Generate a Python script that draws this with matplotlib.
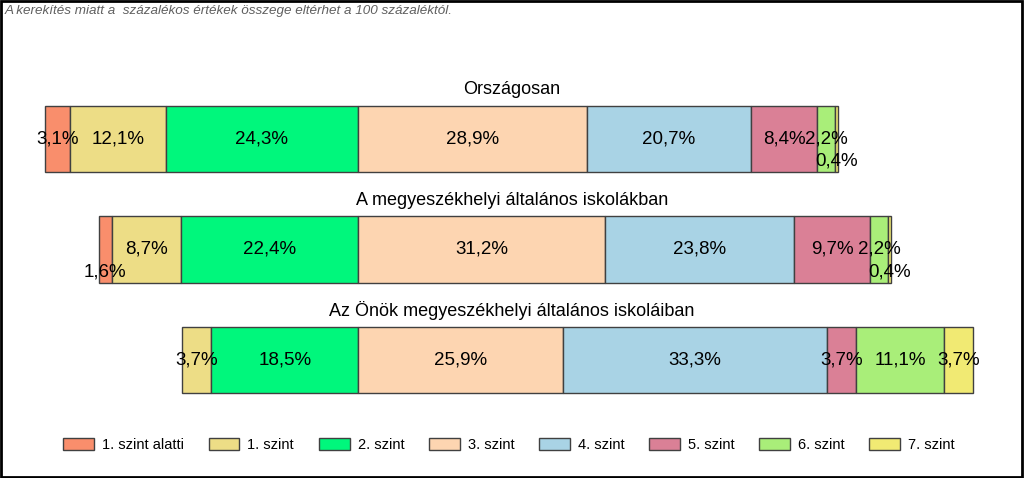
import matplotlib.pyplot as plt
from matplotlib.patches import Rectangle

plt.rcParams['font.family'] = ['Liberation Sans', 'DejaVu Sans']

groups = ['Országosan',
          'A megyeszékhelyi általános iskolákban',
          'Az Önök megyeszékhelyi általános iskoláiban']
levels = ['1. szint alatti', '1. szint', '2. szint', '3. szint',
          '4. szint', '5. szint', '6. szint', '7. szint']
colors = ['#F98E6C', '#EDDD86', '#00F77C', '#FDD5B1',
          '#A9D3E5', '#DA8096', '#A9EE79', '#F1EA73']

orszagos = [3.1, 12.1, 24.3, 28.9, 20.7, 8.4, 2.2, 0.4]
megye = [1.6, 8.7, 22.4, 31.2, 23.8, 9.7, 2.2, 0.4]
onok = [0.0, 3.7, 18.5, 25.9, 33.3, 3.7, 11.1, 3.7]
values = [orszagos, megye, onok]

# small labels pushed down a bit so they don't collide (group, level)
low_labels = [(0, 7), (1, 0), (1, 7)]

fig = plt.figure(figsize=(10.24, 4.78), dpi=100)
ax = fig.add_axes([0, 0, 1, 1])

px = 7.92  # pixels per percent
ax.set_xlim(-358 / px, (1024 - 358) / px)
ax.set_ylim((478 - 139) / 110.5, -139 / 110.5)
ax.axis('off')

for gi, vals in enumerate(values):
    # bars start left of the 2./3. szint boundary
    left = -sum(vals[:3])
    for li, v in enumerate(vals):
        if v > 0:
            ax.barh(gi, v, left=left, height=0.6, color=colors[li],
                    edgecolor='#404040', linewidth=1)
            dy = 0.2 if (gi, li) in low_labels else 0
            ax.text(left + v / 2, gi + dy, f'{v:.1f}%'.replace('.', ','),
                    ha='center', va='center', fontsize=13.5)
        left += v
    ax.text((512 - 358) / px, gi - 0.445, groups[gi], ha='center', va='center',
            fontsize=13)

handles = [Rectangle((0, 0), 1, 1, facecolor=c, edgecolor='#404040') for c in colors]
fig.legend(handles, levels, loc='center', bbox_to_anchor=(0.497, 1 - 445 / 478),
           ncol=8, frameon=False, fontsize=10.5, handlelength=2.1,
           handleheight=0.9, handletextpad=0.55, columnspacing=1.7)

fig.text(5 / 1024, 1 - 11 / 478,
         'A kerekítés miatt a  százalékos értékek összege eltérhet a 100 százaléktól.',
         fontsize=9.7, style='italic', color='#606060', ha='left', va='center')

fig.patches.append(Rectangle((0.001, 0.002), 0.997, 0.995, transform=fig.transFigure,
                             fill=False, edgecolor='black', linewidth=2))

fig.savefig('out.png', dpi=100)
